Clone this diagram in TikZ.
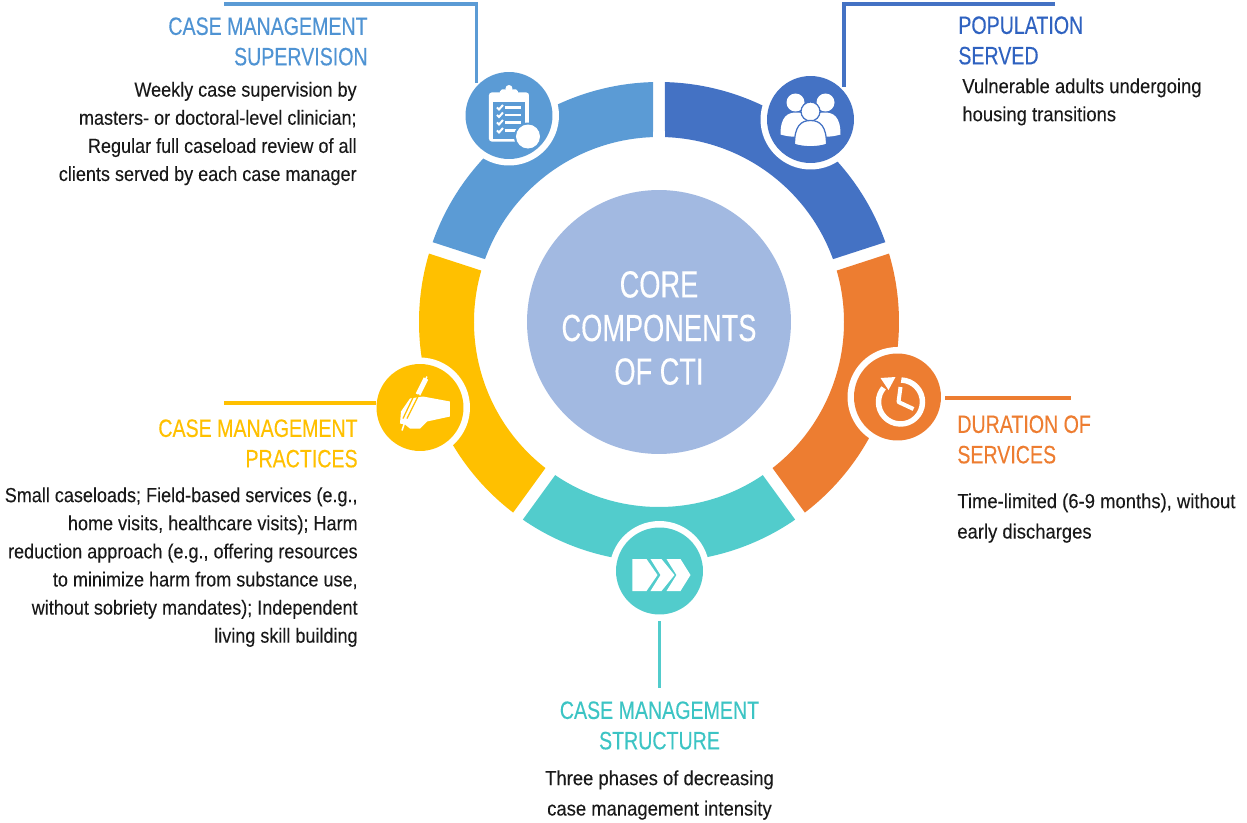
\documentclass[tikz,border=0pt]{standalone}
\usepackage{fontspec}
\setmainfont{Liberation Sans}
\newfontfamily\headfont[FakeStretch=0.78,FakeBold=0.25]{Liberation Sans}
\newfontfamily\bodyfont[FakeStretch=0.905,FakeBold=0.1]{Liberation Sans}
\newfontfamily\tightfont[FakeStretch=0.885,FakeBold=0.1]{Liberation Sans}
\newfontfamily\corefont[FakeStretch=0.72,FakeBold=0.25]{Liberation Sans}
\usepackage{tikz}
\definecolor{supblue}{HTML}{5B9BD5}
\definecolor{supheadblue}{HTML}{4F93D3}
\definecolor{popblue}{HTML}{4472C4}
\definecolor{popheadblue}{HTML}{2F62C0}
\definecolor{duraorange}{HTML}{ED7D31}
\definecolor{structeal}{HTML}{52CCCC}
\definecolor{struheadteal}{HTML}{3CC4C4}
\definecolor{pracyellow}{HTML}{FFC000}
\definecolor{coreblue}{HTML}{A2B9E1}
\tikzset{
  icon/.style={circle,fill=#1,minimum size=1.74cm,inner sep=0pt},
  halo/.style={circle,fill=white,minimum size=2cm,inner sep=0pt},
  lead/.style={line width=0.065cm,#1},
  head/.style={font=\headfont\fontsize{14.3}{17.3}\selectfont,text=#1,inner sep=0pt},
  body/.style={font=\bodyfont\fontsize{11.6}{16}\selectfont,text=black!90,inner sep=0pt},
  tightbody/.style={font=\tightfont\fontsize{11.6}{16}\selectfont,text=black!90,inner sep=0pt},
}
\newcommand{\ringpart}[3]{\fill[#3] (#1+1.43:240) arc (#1+1.43:#2-1.43:240) -- (#2-1.86:185) arc (#2-1.86:#1+1.86:185) -- cycle;}
\begin{document}
\begin{tikzpicture}[x=0.02cm,y=0.02cm]
\useasboundingbox (-659,322) rectangle (588,-500);
\ringpart{18}{90}{popblue}
\ringpart{90}{162}{supblue}
\ringpart{162}{234}{pracyellow}
\ringpart{234}{306}{structeal}
\ringpart{306}{378}{duraorange}
\node[circle,fill=coreblue,minimum size=5.28cm,inner sep=0pt] (core) at (0,0) {};
\node[text=white,align=center,inner sep=0pt,font=\corefont\fontsize{21.5}{24.8}\selectfont] (coretext) at (0,-6) {CORE\\COMPONENTS\\OF CTI};
% icon discs
\node[halo] (suphalo) at (-150,206.5) {};
\node[icon=supblue] (sup) at (-150,206.5) {};
\node[halo] (pophalo) at (151.5,202.5) {};
\node[icon=popblue] (pop) at (151.5,202.5) {};
\node[halo] (durahalo) at (238.5,-75) {};
\node[icon=duraorange] (dura) at (238.5,-75) {};
\node[halo] (prachalo) at (-239,-85.5) {};
\node[icon=pracyellow] (prac) at (-239,-85.5) {};
\node[halo] (struhalo) at (0.5,-249) {};
\node[icon=structeal] (stru) at (0.5,-249) {};
% clipboard
\begin{scope}[shift={(sup.center)}]
\fill[white,rounded corners=1.5pt] (-20,23) rectangle (20,-26);
\fill[white] (0,27) circle (3.5);
\fill[white,rounded corners=1pt] (-9,26) rectangle (9,19);
\fill[supblue] (-16,14) rectangle (16,-23);
\foreach \y in {8,0.5,-7,-15} {
  \draw[white,line width=0.04cm] (-12,\y) -- (-10,\y-2) -- (-6,\y+2.5);
  \draw[white,line width=0.055cm] (-4,\y) -- (12,\y);
}
\fill[supblue] (19,-21) circle (14);
\fill[white] (19,-21) circle (12);
\end{scope}
% people
\begin{scope}[shift={(pop.center)}]
\fill[white] (-15,17) circle (9);
\fill[white] (15,17) circle (9);
\fill[white] (-30,-15) .. controls (-30,3) and (-23,7) .. (-14,7) .. controls (-6,7) and (0,3) .. (0,-15) .. controls (-10,-18) and (-20,-18) .. cycle;
\fill[white] (30,-15) .. controls (30,3) and (23,7) .. (14,7) .. controls (6,7) and (0,3) .. (0,-15) .. controls (10,-18) and (20,-18) .. cycle;
\draw[popblue,fill=white,line width=0.025cm] (0,8) circle (9.5);
\draw[popblue,fill=white,line width=0.025cm] (-16,-25) .. controls (-16,-7) and (-10,-1) .. (0,-1) .. controls (10,-1) and (16,-7) .. (16,-25) .. controls (6,-28) and (-6,-28) .. cycle;
\end{scope}
% clock
\begin{scope}[shift={(dura.center)}]
\draw[white,line width=0.11cm] (3,-5) ++(88:22) arc (88:-220:22);
\fill[white] (-17,19) -- (-2,20) -- (-9,7) -- cycle;
\draw[white,line width=0.08cm,line join=round] (3,10) -- (1,-5) -- (16,-12);
\end{scope}
% writing hand
\begin{scope}[shift={(prac.center)}]
\fill[white] (30,6) -- (30,-9) -- (7,-14) -- (0,-21) -- (-10,-21) -- (-15,-17) -- (-20,-16) -- (-19,-4) -- (-10,9) -- (3,11) -- cycle;
\draw[white,line width=0.1cm] (6,29) -- (-2,13);
\draw[white,line width=0.03cm] (7,31) -- (5,27);
\draw[pracyellow,line width=0.025cm] (-1,13) -- (-13,-11);
\draw[pracyellow,line width=0.025cm] (-6,12) -- (-17,-11);
\draw[white,line width=0.03cm] (-15,-14) -- (-18,-23);
\end{scope}
% chevrons
\begin{scope}[shift={(stru.center)}]
\fill[white] (-27,12) -- (-13,12) -- (-2,-4) -- (-13,-20) -- (-27,-20) -- cycle;
\fill[white] (-9,12) -- (2,12) -- (15,-4) -- (2,-20) -- (-9,-20) -- (1,-4) -- cycle;
\fill[white] (7,12) -- (21,12) -- (31,-4) -- (21,-20) -- (7,-20) -- (17,-4) -- cycle;
\end{scope}
% leader lines
\coordinate (supend) at (-435,318);
\coordinate (popend) at (396,318);
\coordinate (duraend) at (412,-76);
\coordinate (pracend) at (-435,-81);
\coordinate (struend) at (0.5,-366);
\draw[lead=supblue,shorten <=0.07cm] (sup.138) |- (supend);
\draw[lead=popblue,shorten <=0.09cm] (pop.40) |- (popend);
\draw[lead=duraorange,shorten <=0.08cm] (dura.east |- duraend) -- (duraend);
\draw[lead=pracyellow] (prac.west |- pracend) -- (pracend);
\draw[lead=structeal,shorten <=0.13cm] (stru.south) -- (struend);
% labels
\node[head=supheadblue,anchor=north east,align=right] (suphead) at (-291,305) {CASE MANAGEMENT\\SUPERVISION};
\node[tightbody,anchor=north east,align=right] (supbody) at (-302,240.5) {Weekly case supervision by\\masters- or doctoral-level clinician;\\Regular full caseload review of all\\clients served by each case manager};
\node[head=popheadblue,anchor=north west,align=left] (pophead) at (299,306) {POPULATION\\SERVED};
\node[body,anchor=north west,align=left] (popbody) at (303,244) {Vulnerable adults undergoing\\housing transitions};
\node[head=duraorange,anchor=north west,align=left] (durahead) at (298,-93) {DURATION OF\\SERVICES};
\node[body,anchor=north west,align=left] (durabody) at (298,-171) {Time-limited (6-9 months), without\\[1.3pt]early discharges};
\node[head=pracyellow,anchor=north east,align=right] (prachead) at (-301,-97) {CASE MANAGEMENT\\PRACTICES};
\node[tightbody,anchor=north east,align=right] (pracbody) at (-301,-165) {Small caseloads; Field-based services (e.g.,\\home visits, healthcare visits); Harm\\reduction approach (e.g., offering resources\\to minimize harm from substance use,\\without sobriety mandates); Independent\\living skill building};
\node[head=struheadteal,anchor=north,align=center] (strulabel) at (0.5,-379) {CASE MANAGEMENT\\STRUCTURE};
\node[body,anchor=north,align=center] (strubody) at (0.5,-448) {Three phases of decreasing\\[1.3pt]case management intensity};
\end{tikzpicture}
\end{document}
